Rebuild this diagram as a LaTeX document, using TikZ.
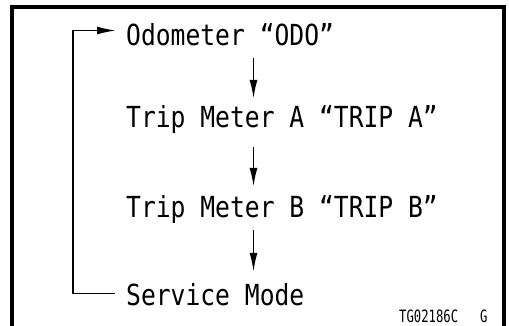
\documentclass[tikz,border=0pt]{standalone}
\usepackage{fontspec}
\usetikzlibrary{arrows.meta,calc}
% Narrow monospaced faces for the menu items and the figure tag
\newfontfamily\lcdfont[FakeStretch=0.85]{DejaVu Sans Mono}
\newfontfamily\tagfont[FakeStretch=0.72]{DejaVu Sans Mono}

\tikzset{
  item/.style={anchor=base west, inner sep=0pt, text height=21pt, text depth=0pt,
               font=\lcdfont\fontsize{29}{29}\selectfont},
  tagtext/.style={anchor=base west, inner sep=0pt, font=\tagfont\fontsize{17}{17}\selectfont},
  tip/.style={-{Latex[length=19pt,width=8pt]}},
  flow/.style={tip, line width=1.8pt},
  loopline/.style={line width=1.6pt},
  frameline/.style={line width=4pt}
}

\begin{document}
\begin{tikzpicture}[x=1pt,y=-1pt]
  \useasboundingbox (0,0) rectangle (509,326);
  \fill[white] (0,0) rectangle (509,326);

  % open-bottomed frame
  \draw[frameline] (12,326) -- (12,7) -- (503.5,7) -- (503.5,326);

  % menu items
  \node[item] (odo)   at (126,46)  {Odometer “ODO”};
  \node[item] (tripa) at (126,128) {Trip Meter A “TRIP A”};
  \node[item] (tripb) at (126,217) {Trip Meter B “TRIP B”};
  \node[item] (svc)   at (126,305) {Service Mode};

  % figure tag
  \node[tagtext] (tag)  at (399,322) {TG02186C};
  \node[tagtext] (lang) at (480,322) {G};

  % column of the downward arrows and of the return path
  \coordinate (ax) at (253.5,0);
  \coordinate (lx) at (73,0);

  \draw[flow, shorten <=12pt, shorten >=8pt] (odo.south -| ax) -- (tripa.north -| ax);
  \draw[flow, shorten <=19pt, shorten >=9pt] (tripa.south -| ax) -- (tripb.north -| ax);
  \draw[flow, shorten <=13pt, shorten >=12pt] (tripb.south -| ax) -- (svc.north -| ax);

  % return path from Service Mode back to Odometer
  \coordinate (sv) at ($(svc.west)+(-11,-1)$);
  \coordinate (od) at ($(odo.west)+(-10,-5)$);
  \draw[loopline] (sv) -- (sv -| lx) -- (od -| lx);
  \draw[loopline, tip] (od -| lx) -- (od);
\end{tikzpicture}
\end{document}
